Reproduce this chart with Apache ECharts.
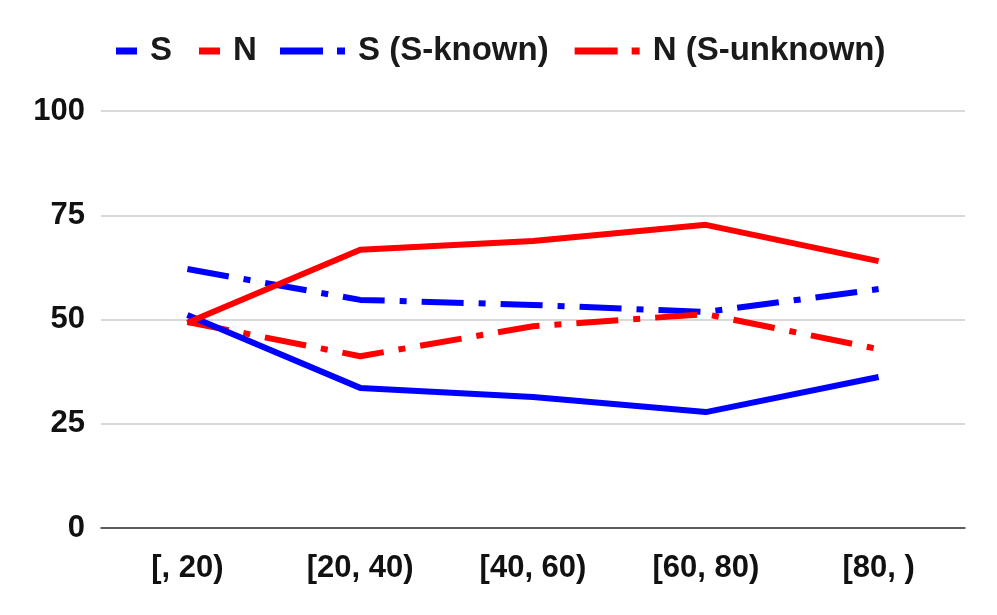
<!DOCTYPE html>
<html>
<head>
<meta charset="utf-8">
<script src="https://cdn.jsdelivr.net/npm/echarts@6/dist/echarts.min.js"></script>
<style>html,body{margin:0;padding:0;background:#fff}#c{width:997px;height:615px}</style>
</head>
<body>
<div id="c"></div>
<script>
const categories = ['[, 20)', '[20, 40)', '[40, 60)', '[60, 80)', '[80, )'];
const sValues = [51.1, 33.6, 31.4, 27.8, 36.2];
const nValues = [49.2, 66.7, 68.8, 72.7, 64.0];
const sKnownValues = [62.1, 54.7, 53.5, 51.8, 57.3];
const nUnknownValues = [49.4, 41.2, 48.4, 51.3, 42.9];
const yTicks = [0, 25, 50, 75, 100];

const BLUE = '#0000ff', RED = '#ff0000';
const FONT = '"Liberation Sans", Arial, sans-serif';
const dashDot = [42, 15, 7, 15];

const legendText = {fontFamily: FONT, fontWeight: 'bold', fontSize: 33, color: '#1a1a1a', padding: [0, 0, 0, 8], lineHeight: 36};

const chart = echarts.init(document.getElementById('c'), null, {renderer: 'canvas'});
chart.setOption({
  animation: false,
  backgroundColor: '#fff',
  grid: {left: 101, right: 32, top: 111, bottom: 87},
  legend: [
    {
      data: ['S', 'N'],
      left: 111, top: 28,
      itemWidth: 21, itemHeight: 7, itemGap: 27,
      icon: 'rect',
      selectedMode: false,
      itemStyle: {borderWidth: 0},
      lineStyle: {width: 0, type: 'solid'},
      textStyle: legendText
    },
    {
      data: ['S (S-known)', 'N (S-unknown)'],
      left: 275, top: 28,
      itemWidth: 65, itemHeight: 7, itemGap: 26,
      icon: 'path://M0,0h43v7h-43z M57,0h8v7h-8z',
      selectedMode: false,
      itemStyle: {borderWidth: 0},
      lineStyle: {width: 0, type: 'solid'},
      textStyle: legendText
    }
  ],
  xAxis: {
    type: 'category',
    data: categories,
    boundaryGap: true,
    axisLine: {show: true, lineStyle: {color: '#333', width: 1.5}},
    axisTick: {show: false},
    axisLabel: {fontFamily: FONT, fontWeight: 'bold', fontSize: 31, color: '#111', margin: 25}
  },
  yAxis: {
    type: 'value',
    min: yTicks[0], max: yTicks[yTicks.length - 1], interval: 25,
    axisLine: {show: false},
    axisTick: {show: false},
    splitLine: {lineStyle: {color: '#cccccc', width: 1.5}},
    axisLabel: {fontFamily: FONT, fontWeight: 'bold', fontSize: 31, color: '#111', margin: 16}
  },
  series: [
    {name: 'S (S-known)', type: 'line', data: sKnownValues, showSymbol: false, symbol: 'none',
     lineStyle: {color: BLUE, width: 6, type: dashDot}, itemStyle: {color: BLUE}},
    {name: 'N (S-unknown)', type: 'line', data: nUnknownValues, showSymbol: false, symbol: 'none',
     lineStyle: {color: RED, width: 6, type: dashDot}, itemStyle: {color: RED}},
    {name: 'S', type: 'line', data: sValues, showSymbol: false, symbol: 'none',
     lineStyle: {color: BLUE, width: 6}, itemStyle: {color: BLUE}},
    {name: 'N', type: 'line', data: nValues, showSymbol: false, symbol: 'none',
     lineStyle: {color: RED, width: 6}, itemStyle: {color: RED}}
  ]
});
</script>
</body>
</html>
